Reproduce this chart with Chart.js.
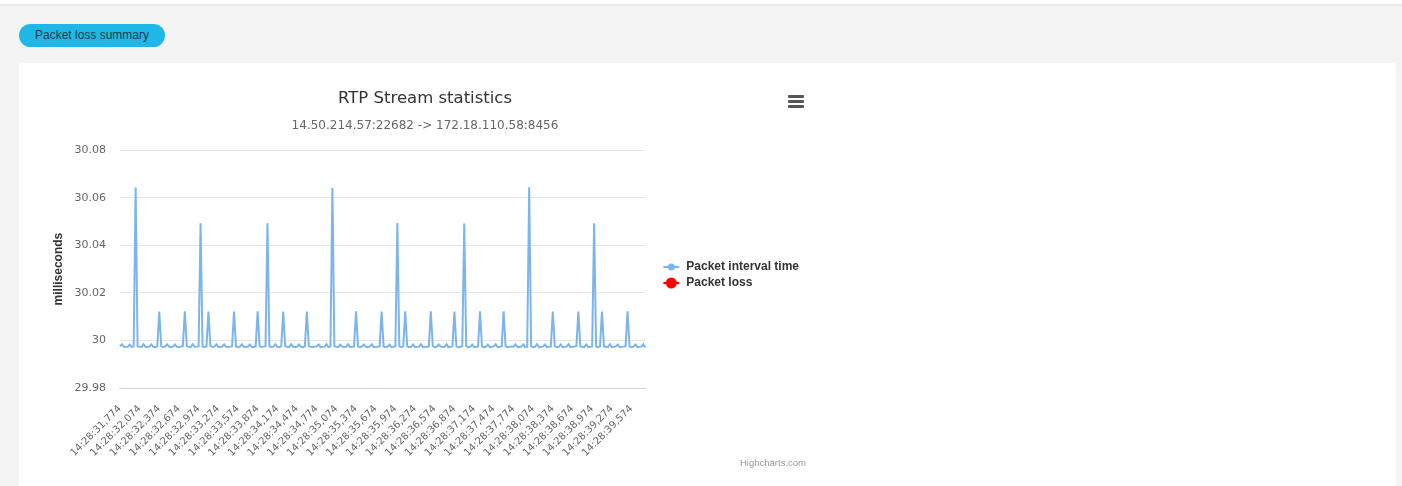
<!DOCTYPE html>
<html>
<head>
<meta charset="utf-8">
<script src="https://cdn.jsdelivr.net/npm/chart.js@4/dist/chart.umd.min.js"></script>
<style>
  html, body { margin: 0; padding: 0; }
  body {
    width: 1402px; height: 486px; overflow: hidden; position: relative;
    background: #f4f4f4; font-family: "Liberation Sans", Arial, sans-serif;
  }
  .topbar { position: absolute; left: 0; top: 0; width: 1402px; height: 4px; background: #fff; border-bottom: 2px solid #e9e9ef; }
  .summary-btn {
    position: absolute; left: 19px; top: 24px; width: 146px; height: 23px;
    border-radius: 12px; background: #1fb8e6; color: #1e3a4c;
    font-size: 12px; line-height: 23px; text-align: center;
  }
  .card { position: absolute; left: 19px; top: 63px; width: 1377px; height: 440px; background: #fff; border-radius: 4px; }
  .chart-box { position: absolute; left: 20px; top: 64px; width: 810px; height: 422px; }
  .menu { position: absolute; left: 788px; top: 95px; width: 16px; }
  .menu span { display: block; height: 3px; background: #555; margin-bottom: 2px; border-radius: 1px; }
  .credit { position: absolute; left: 740px; top: 457px; font-size: 9.5px; color: #999; }
</style>
</head>
<body>
<div class="topbar"></div>
<div class="summary-btn">Packet loss summary</div>
<div class="card"></div>
<div class="chart-box"><canvas id="rtpChart"></canvas></div>
<div class="menu"><span></span><span></span><span></span></div>
<div class="credit">Highcharts.com</div>

<script>
// labels shown every 10th sample on the x axis
const tickLabels = [
  '14:28:31,774', '14:28:32,074', '14:28:32,374', '14:28:32,674', '14:28:32,974',
  '14:28:33,274', '14:28:33,574', '14:28:33,874', '14:28:34,174', '14:28:34,474',
  '14:28:34,774', '14:28:35,074', '14:28:35,374', '14:28:35,674', '14:28:35,974',
  '14:28:36,274', '14:28:36,574', '14:28:36,874', '14:28:37,174', '14:28:37,474',
  '14:28:37,774', '14:28:38,074', '14:28:38,374', '14:28:38,674', '14:28:38,974',
  '14:28:39,274', '14:28:39,574'
];
const labelEvery = 10;

// packet interval time (ms), one value per packet
const intervalTimes = [
  29.9976, 29.9984, 29.9973, 29.9972, 29.9974, 29.9983, 29.9973, 29.9975, 30.0643, 29.9975,
  29.9974, 29.9972, 29.9984, 29.9973, 29.9972, 29.9974, 29.9983, 29.9973, 29.9972, 29.9975,
  30.0122, 29.9976, 29.9973, 29.9974, 29.9984, 29.9973, 29.9972, 29.9974, 29.9983, 29.9973,
  29.9972, 29.9974, 29.9976, 30.0123, 29.9976, 29.9973, 29.9972, 29.9984, 29.9973, 29.9974,
  29.9976, 30.0493, 29.9975, 29.9973, 29.9975, 30.0122, 29.9976, 29.9973, 29.9974, 29.9984,
  29.9973, 29.9972, 29.9974, 29.9983, 29.9973, 29.9972, 29.9974, 29.9976, 30.0122, 29.9975,
  29.9973, 29.9974, 29.9984, 29.9973, 29.9972, 29.9974, 29.9983, 29.9973, 29.9972, 29.9975,
  30.0123, 29.9976, 29.9973, 29.9974, 29.9976, 30.0493, 29.9975, 29.9973, 29.9974, 29.9984,
  29.9973, 29.9972, 29.9975, 30.0122, 29.9976, 29.9973, 29.9972, 29.9984, 29.9973, 29.9972,
  29.9974, 29.9983, 29.9973, 29.9972, 29.9975, 30.0122, 29.9976, 29.9973, 29.9972, 29.9974,
  29.9975, 29.9983, 29.9972, 29.9973, 29.9974, 29.9984, 29.9972, 29.9975, 30.0642, 29.9976,
  29.9973, 29.9972, 29.9983, 29.9974, 29.9972, 29.9973, 29.9984, 29.9972, 29.9973, 29.9975,
  30.0123, 29.9975, 29.9972, 29.9974, 29.9983, 29.9973, 29.9972, 29.9975, 29.9984, 29.9972,
  29.9973, 29.9974, 29.9975, 30.0122, 29.9975, 29.9972, 29.9973, 29.9983, 29.9972, 29.9974,
  29.9975, 30.0494, 29.9976, 29.9972, 29.9975, 30.0123, 29.9975, 29.9972, 29.9973, 29.9983,
  29.9972, 29.9973, 29.9974, 29.9984, 29.9972, 29.9973, 29.9974, 29.9975, 30.0123, 29.9976,
  29.9972, 29.9973, 29.9983, 29.9974, 29.9972, 29.9973, 29.9984, 29.9972, 29.9973, 29.9975,
  30.0122, 29.9975, 29.9972, 29.9974, 29.9975, 30.0492, 29.9976, 29.9972, 29.9973, 29.9983,
  29.9972, 29.9973, 29.9974, 30.0123, 29.9975, 29.9972, 29.9973, 29.9983, 29.9972, 29.9973,
  29.9975, 29.9984, 29.9972, 29.9973, 29.9974, 30.0123, 29.9975, 29.9972, 29.9973, 29.9975,
  29.9974, 29.9984, 29.9973, 29.9972, 29.9975, 29.9983, 29.9972, 29.9974, 30.0644, 29.9975,
  29.9972, 29.9973, 29.9984, 29.9972, 29.9973, 29.9974, 29.9983, 29.9972, 29.9973, 29.9974,
  30.0122, 29.9976, 29.9972, 29.9973, 29.9983, 29.9972, 29.9973, 29.9974, 29.9984, 29.9972,
  29.9973, 29.9975, 29.9976, 30.0122, 29.9975, 29.9973, 29.9972, 29.9983, 29.9972, 29.9973,
  29.9975, 30.0493, 29.9975, 29.9972, 29.9976, 30.0122, 29.9975, 29.9973, 29.9972, 29.9984,
  29.9972, 29.9973, 29.9975, 29.9983, 29.9972, 29.9973, 29.9974, 29.9976, 30.0123, 29.9975,
  29.9972, 29.9974, 29.9983, 29.9972, 29.9973, 29.9974, 29.9984, 29.9970
];

// no lost packets in this stream
const packetLoss = [];

const yTicks = { min: 29.98, max: 30.08, step: 0.02 };

// category labels: a tick label on every 10th packet, blank otherwise
const categories = intervalTimes.map((v, i) => (i % labelEvery === 0 ? (tickLabels[i / labelEvery] || '') : ''));

// legend symbols in Highcharts style (short line + marker), drawn off-centre in a wide box
function legendSymbol(color, radius) {
    const c = document.createElement('canvas');
    c.width = 44; c.height = 14;
    const g = c.getContext('2d');
    g.strokeStyle = color; g.lineWidth = 2;
    g.beginPath(); g.moveTo(20.5, 7); g.lineTo(36.5, 7); g.stroke();
    g.fillStyle = color;
    g.beginPath(); g.arc(28.5, 7, radius, 0, Math.PI * 2); g.fill();
    return c;
}

const ctx = document.getElementById('rtpChart');
new Chart(ctx, {
    type: 'line',
    data: {
        labels: categories,
        datasets: [{
            label: 'Packet interval time',
            data: intervalTimes,
            borderColor: '#7cb5ec',
            backgroundColor: '#7cb5ec',
            borderWidth: 2,
            tension: 0,
            pointRadius: 0,
            pointHoverRadius: 0,
            pointStyle: legendSymbol('#7cb5ec', 3.5)
        }, {
            label: 'Packet loss',
            data: packetLoss,
            borderColor: '#ff0000',
            backgroundColor: '#ff0000',
            borderWidth: 2,
            pointRadius: 0,
            pointHoverRadius: 0,
            pointStyle: legendSymbol('#ff0000', 5.5)
        }]
    },
    options: {
        responsive: true,
        maintainAspectRatio: false,
        animation: false,
        devicePixelRatio: 1,
        layout: { padding: { top: 0, bottom: 12, left: 21, right: 21 } },
        plugins: {
            title: {
                display: true,
                text: 'RTP Stream statistics',
                color: '#333333',
                font: { family: 'DejaVu Sans', size: 16.5, weight: 'normal' },
                padding: { top: 25, bottom: 4 }
            },
            subtitle: {
                display: true,
                text: '14.50.214.57:22682 -> 172.18.110.58:8456',
                color: '#666666',
                font: { family: 'DejaVu Sans', size: 12 },
                padding: { top: 6, bottom: 17 }
            },
            legend: {
                position: 'right',
                title: { display: true, text: '', font: { size: 10 }, padding: 0 },
                labels: {
                    usePointStyle: true,
                    pointStyleWidth: 31,
                    padding: 4,
                    color: '#333333',
                    font: { family: 'Liberation Sans', size: 12, weight: 'bold' }
                }
            },
            tooltip: { enabled: false }
        },
        scales: {
            x: {
                grid: { display: false, drawTicks: false },
                border: { display: true, color: '#ccd6eb' },
                ticks: {
                    autoSkip: false,
                    minRotation: 45,
                    maxRotation: 45,
                    padding: 15,
                    color: '#666666',
                    font: { family: 'DejaVu Sans', size: 10 }
                },
                // rotated labels may hang past the plot edges, like in Highcharts
                afterFit: (scale) => { scale.paddingLeft = 0; scale.paddingRight = 0; }
            },
            y: {
                min: yTicks.min,
                max: yTicks.max,
                grid: {
                    drawTicks: false,
                    color: (c) => (c.index === 0 ? '#ccd6eb' : '#e6e6e6')
                },
                border: { display: false },
                ticks: {
                    stepSize: yTicks.step,
                    padding: 14,
                    color: '#666666',
                    font: { family: 'DejaVu Sans', size: 11 },
                    callback: (v) => String(parseFloat(Number(v).toFixed(2)))
                },
                title: {
                    display: true,
                    text: 'milliseconds',
                    color: '#333333',
                    font: { family: 'Liberation Sans', size: 12, weight: 'bold' },
                    // the axis reserves tick padding twice, so pull the labels back toward the title
                    padding: { top: 10, bottom: -5 }
                }
            }
        }
    }
});
</script>
</body>
</html>
